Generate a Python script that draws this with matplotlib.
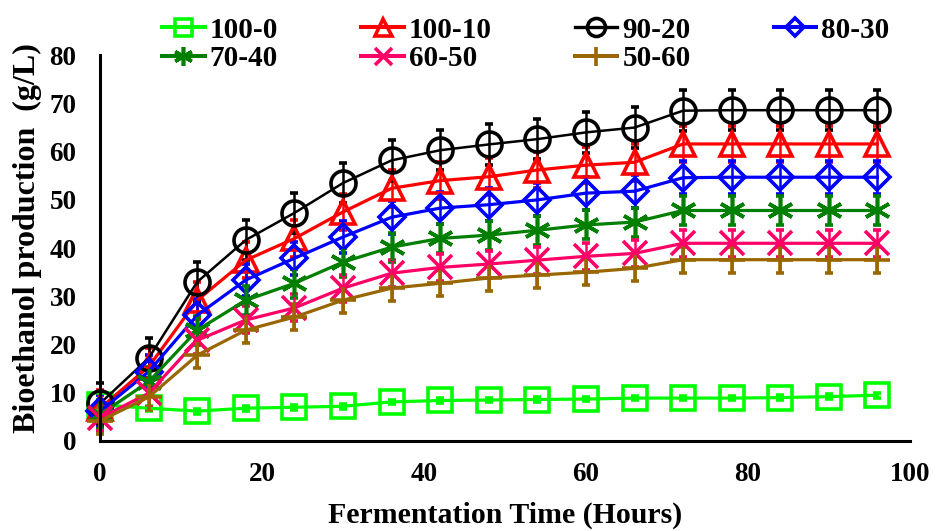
#bioethanol production over fermentation time, 7 blend ratios
import matplotlib.pyplot as plt
from matplotlib.lines import Line2D

#data
hours = [0, 6, 12, 18, 24, 30, 36, 42, 48, 54, 60, 66, 72, 78, 84, 90, 96]
s100_0 = [7.5, 6.8, 6.2, 6.8, 7.0, 7.2, 8.1, 8.4, 8.5, 8.6, 8.7, 8.9, 8.9, 8.9, 9.0, 9.2, 9.5]
s100_10 = [6.8, 15.4, 29.2, 37.5, 42.0, 47.5, 52.4, 54.0, 54.8, 56.2, 57.2, 57.8, 61.6, 61.6, 61.6, 61.6, 61.6]
s90_20 = [7.8, 17.2, 33.0, 41.7, 47.3, 53.5, 58.2, 60.3, 61.5, 62.6, 64.0, 65.0, 68.5, 68.6, 68.6, 68.6, 68.6]
s80_30 = [6.2, 14.4, 26.1, 33.4, 37.9, 42.3, 46.4, 48.3, 49.0, 50.0, 51.4, 51.8, 54.6, 54.7, 54.7, 54.7, 54.7]
s70_40 = [5.5, 12.3, 23.0, 29.2, 32.7, 37.1, 40.2, 42.0, 42.7, 43.7, 44.8, 45.4, 47.8, 47.8, 47.8, 47.8, 47.8]
s60_50 = [4.8, 9.9, 20.9, 25.1, 27.6, 31.7, 34.8, 36.0, 36.7, 37.5, 38.3, 38.9, 41.0, 41.0, 41.0, 41.0, 41.0]
s50_60 = [4.2, 9.1, 17.8, 23.0, 25.7, 29.2, 31.7, 32.7, 33.8, 34.4, 35.0, 35.8, 37.6, 37.6, 37.6, 37.6, 37.6]
errs = [0.5, 3.8, 4.2, 3.4, 3.0, 2.8, 2.7]
names = ["100-0", "100-10", "90-20", "80-30", "70-40", "60-50", "50-60"]

series = [s100_0, s100_10, s90_20, s80_30, s70_40, s60_50, s50_60]
colors = ["#00FF00", "#FF0000", "#000000", "#0000FF", "#007F00", "#FF0066", "#996600"]
markers = ["s", "^", "o", "D", (6, 2, 0), "x", "+"]
msizes = [17, 17, 18, 13, 19, 17, 19]
lwidths = [2.3, 2.3, 1.8, 2.3, 2.3, 2.3, 2.3]

plt.rcParams['font.family'] = ['Liberation Serif', 'DejaVu Serif']
plt.rcParams['font.weight'] = 'bold'

fig = plt.figure(figsize=(9.36, 5.31), dpi=100)
ax = fig.add_axes([0.107, 0.1695, 0.865, 0.7265])

handles = []
for i in range(len(series)):
    eb = ax.errorbar(hours, series[i], yerr=errs[i], color=colors[i], lw=lwidths[i],
                     marker=markers[i], ms=msizes[i], mfc='none', mec=colors[i], mew=2.6,
                     ecolor=colors[i], elinewidth=1.8, capsize=3, capthick=2, clip_on=False)
    for a in eb.lines[1] + eb.lines[2] + (eb.lines[0],):
        a.set_clip_on(False)
    handles.append(Line2D([], [], color=colors[i], lw=lwidths[i] + 0.6, marker=markers[i],
                          ms=msizes[i] * 0.72, mfc='none', mec=colors[i], mew=2.6))

ax.set_xlim(0, 100)
ax.set_ylim(0, 80)
ax.set_xticks([0, 20, 40, 60, 80, 100])
ax.set_yticks(range(0, 81, 10))
ax.tick_params(length=0, labelsize=19.5)
ax.tick_params(axis='x', pad=15)
ax.tick_params(axis='y', pad=17)
for s in ['top', 'right']:
    ax.spines[s].set_visible(False)
for s in ['left', 'bottom']:
    ax.spines[s].set_linewidth(2.2)
ax.set_xlabel("Fermentation Time (Hours)", fontsize=21.5, fontweight='bold', labelpad=11)
ax.set_ylabel("Bioethanol production  (g/L)", fontsize=23, fontweight='bold')
ax.yaxis.set_label_coords(-0.072, 0.526)

order = [0, 4, 1, 5, 2, 6, 3]
fig.legend([handles[k] for k in order], [names[k] for k in order], ncol=4,
           loc='upper center', bbox_to_anchor=(0.562, 1.018), frameon=False,
           fontsize=21, handlelength=1.45, handletextpad=0.18,
           columnspacing=2.85, labelspacing=0.05)

fig.savefig("out.png", dpi=100)
